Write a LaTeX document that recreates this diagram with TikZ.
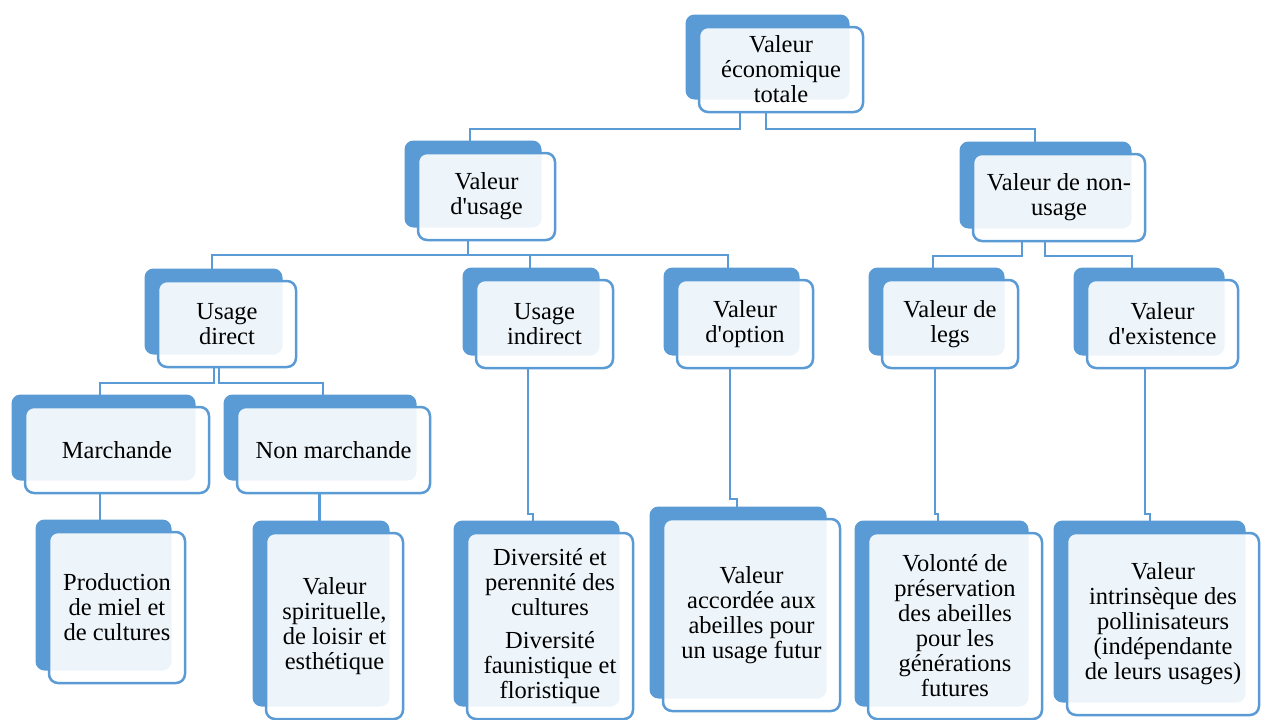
\documentclass[tikz,border=0pt]{standalone}
\usepackage{fontspec}
\setmainfont{Liberation Serif}
\usetikzlibrary{shadows,backgrounds}
\definecolor{boxblue}{RGB}{91,155,213}
\tikzset{val/.style={draw=boxblue, line width=2.5pt, fill=white, fill opacity=0.9, text opacity=1,
    rounded corners=9pt, align=center, inner sep=0pt,
    font=\fontsize{24.5}{25}\selectfont,
    general shadow={shadow xshift=-13.5pt, shadow yshift=12.5pt, fill=boxblue, fill opacity=1, draw=none}},
  link/.style={draw=boxblue, line width=2.2pt}}

\begin{document}
\begin{tikzpicture}[x=1pt,y=-1pt]
  \useasboundingbox (0,0) rectangle (1262,720);
  % level 0 and 1
  \node[val, minimum width=164pt, minimum height=85pt] (vet) at (781,69.5) {Valeur\\économique\\totale};
  \node[val, minimum width=137pt, minimum height=87pt] (vu) at (486.5,196.5) {Valeur\\d\textquotesingle usage};
  \node[val, minimum width=172pt, minimum height=87pt] (vnu) at (1059,197.5) {Valeur de non-\\usage};
  % level 2
  \node[val, minimum width=138pt, minimum height=86pt] (ud) at (227,324) {Usage\\direct};
  \node[val, minimum width=137pt, minimum height=88pt] (ui) at (544.5,324) {Usage\\indirect};
  \node[val, minimum width=136pt, minimum height=88pt] (vo) at (745,324) {Valeur\\d\textquotesingle option};
  \node[val, minimum width=136pt, minimum height=88pt] (vl) at (950,324) {Valeur de\\legs};
  \node[val, minimum width=151pt, minimum height=88pt] (ve) at (1162.5,324) {Valeur\\d\textquotesingle existence};
  % level 3
  \node[val, minimum width=184pt, minimum height=86pt] (mar) at (117,450) {Marchande};
  \node[val, minimum width=193pt, minimum height=86pt] (nmar) at (333.5,450) {Non marchande};
  % leaves
  \node[val, minimum width=136pt, minimum height=151pt] (prod) at (117,607.5) {Production\\de miel et\\de cultures};
  \node[val, minimum width=137pt, minimum height=186pt] (spir) at (334.5,626) {Valeur\\spirituelle,\\de loisir et\\esthétique};
  \node[val, minimum width=166pt, minimum height=186pt] (div) at (550,626) {Diversité et\\perennité des\\cultures\\[8pt]Diversité\\faunistique et\\floristique};
  \node[val, minimum width=177pt, minimum height=192pt] (acc) at (751.5,615) {Valeur\\accordée aux\\abeilles pour\\un usage futur};
  \node[val, minimum width=174pt, minimum height=186pt] (vol) at (955,626) {Volonté de\\préservation\\des abeilles\\pour les\\générations\\futures};
  \node[val, minimum width=192pt, minimum height=182pt] (intr) at (1163,624) {Valeur\\intrinsèque des\\pollinisateurs\\(indépendante\\de leurs usages)};
  % connectors
  \begin{scope}[on background layer]
    \draw[link] ([xshift=-41pt]vet.south) -- ++(0,16) -| ([xshift=-16.5pt]vu.north);
    \draw[link] ([xshift=-15pt]vet.south) -- ++(0,16) -| ([xshift=-24pt]vnu.north);
    \draw[link] ([xshift=-18.5pt]vu.south) -- ++(0,14) -| ([xshift=-15pt]ud.north);
    \draw[link] ([xshift=-18.5pt]vu.south) -- ++(0,14) -| ([xshift=-14.5pt]ui.north);
    \draw[link] ([xshift=-18.5pt]vu.south) -- ++(0,14) -| ([xshift=-17pt]vo.north);
    \draw[link] ([xshift=-37pt]vnu.south) -- ++(0,14) -| ([xshift=-17pt]vl.north);
    \draw[link] ([xshift=-14pt]vnu.south) -- ++(0,14) -| ([xshift=-30.5pt]ve.north);
    \draw[link] ([xshift=-13pt]ud.south) -- ++(0,15) -| ([xshift=-17pt]mar.north);
    \draw[link] ([xshift=-8pt]ud.south) -- ++(0,15) -| ([xshift=-10.5pt]nmar.north);
    \draw[link] ([xshift=-17pt]mar.south) -- ([xshift=-17pt]prod.north);
    \draw[link] ([xshift=-14pt]nmar.south) -- ([xshift=-14pt]nmar.south |- spir.north);
    \draw[link] ([xshift=-16.5pt]ui.south) -- ++(0,145) -| ([xshift=-17pt]div.north);
    \draw[link] ([xshift=-15pt]vo.south) -- ++(0,130) -| ([xshift=-14.5pt]acc.north);
    \draw[link] ([xshift=-15pt]vl.south) -- ++(0,145) -| ([xshift=-17pt]vol.north);
    \draw[link] ([xshift=-17.5pt]ve.south) -- ++(0,145) -| ([xshift=-13pt]intr.north);
  \end{scope}
\end{tikzpicture}
\end{document}
